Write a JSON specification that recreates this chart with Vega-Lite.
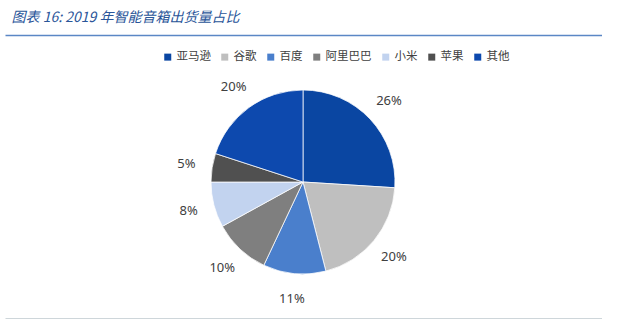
{
  "$schema": "https://vega.github.io/schema/vega-lite/v6.json",
  "width": 598,
  "height": 274,
  "autosize": {"type": "none"},
  "padding": {"left": 4, "top": 45, "right": 0, "bottom": 0},
  "background": "white",
  "config": {"view": {"stroke": null}},
  "data": {
    "values": [
      {"company": "亚马逊", "share": 0.26, "rank": 1},
      {"company": "谷歌", "share": 0.20, "rank": 2},
      {"company": "百度", "share": 0.11, "rank": 3},
      {"company": "阿里巴巴", "share": 0.10, "rank": 4},
      {"company": "小米", "share": 0.08, "rank": 5},
      {"company": "苹果", "share": 0.05, "rank": 6},
      {"company": "其他", "share": 0.20, "rank": 7}
    ]
  },
  "layer": [
    {
      "mark": {"type": "point", "opacity": 0},
      "encoding": {
        "x": {
          "field": "share",
          "type": "quantitative",
          "scale": {"range": [1, 627]},
          "axis": {
            "orient": "top",
            "offset": 10,
            "domainColor": "#5B87C5",
            "domainWidth": 1.5,
            "ticks": false,
            "labels": false,
            "grid": false,
            "title": "图表 16: 2019 年智能音箱出货量占比",
            "titleAnchor": "start",
            "titleAlign": "left",
            "titleBaseline": "alphabetic",
            "titleX": 7,
            "titleY": -14,
            "titleFont": "Noto Sans CJK SC",
            "titleFontStyle": "italic",
            "titleFontWeight": "normal",
            "titleFontSize": 14,
            "titleColor": "#2A5599"
          }
        }
      }
    },
    {
      "mark": {"type": "point", "opacity": 0},
      "encoding": {
        "x": {
          "field": "share",
          "type": "quantitative",
          "axis": {
            "orient": "bottom",
            "offset": 0,
            "domainColor": "#3E5C6B",
            "domainWidth": 1.5,
            "ticks": false,
            "labels": false,
            "grid": false,
            "title": null
          }
        }
      }
    },
    {
      "mark": {"type": "arc", "outerRadius": 92, "stroke": "white", "strokeWidth": 0.75},
      "encoding": {
        "theta": {"field": "share", "type": "quantitative", "stack": true},
        "order": {"field": "rank", "type": "quantitative"},
        "color": {
          "field": "company",
          "type": "nominal",
          "scale": {
            "domain": ["亚马逊", "谷歌", "百度", "阿里巴巴", "小米", "苹果", "其他"],
            "range": ["#0A46A2", "#BFBFBF", "#4A7FCC", "#7F7F7F", "#C2D3EF", "#505050", "#0D49AE"]
          },
          "legend": {
            "orient": "none",
            "legendX": 158,
            "legendY": 6,
            "direction": "horizontal",
            "columns": 7,
            "title": null,
            "symbolType": "square",
            "symbolSize": 49,
            "symbolStrokeWidth": 0,
            "labelFont": "Noto Sans CJK SC",
            "labelFontSize": 11.5,
            "labelColor": "#404040",
            "labelOffset": 3,
            "columnPadding": 8
          }
        }
      }
    },
    {
      "mark": {"type": "text", "radius": 118, "font": "Noto Sans", "fontSize": 13, "fill": "#404040"},
      "encoding": {
        "theta": {"field": "share", "type": "quantitative", "stack": true},
        "order": {"field": "rank", "type": "quantitative"},
        "detail": {"field": "company", "type": "nominal"},
        "text": {"field": "share", "type": "quantitative", "format": ".0%"}
      }
    }
  ],
  "resolve": {"axis": {"x": "independent"}}
}
